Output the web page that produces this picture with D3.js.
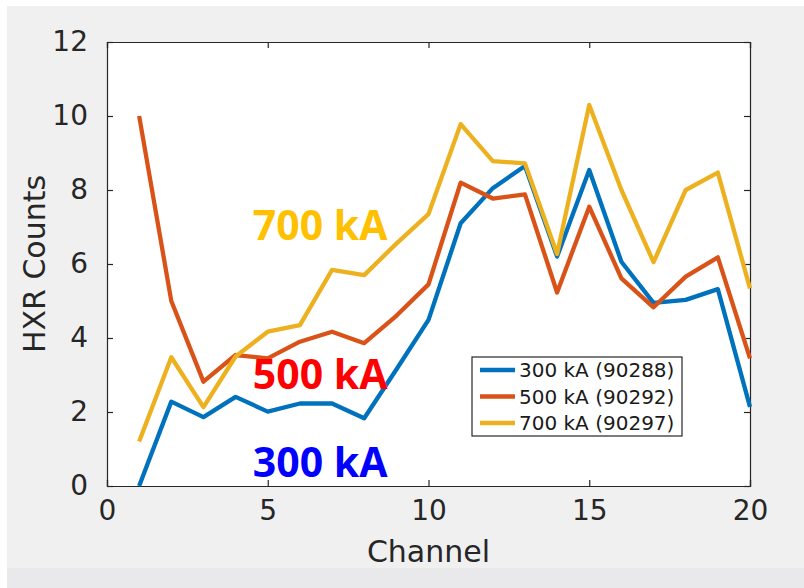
<!DOCTYPE html>
<html><head><meta charset="utf-8">
<script src="https://cdn.jsdelivr.net/npm/d3@7"></script>
<style>html,body{margin:0;padding:0;background:#fff;}svg{display:block;}</style>
</head><body>
<script>
const channels = [1,2,3,4,5,6,7,8,9,10,11,12,13,14,15,16,17,18,19,20];
const s300 = [0,2.28,1.86,2.41,2.01,2.23,2.23,1.83,3.15,4.49,7.1,8.05,8.65,6.2,8.54,6.06,4.95,5.03,5.32,2.14];
const s500 = [10.0,5.0,2.82,3.54,3.45,3.9,4.17,3.86,4.6,5.45,8.2,7.77,7.88,5.23,7.55,5.61,4.83,5.66,6.18,3.45];
const s700 = [1.2,3.48,2.13,3.5,4.17,4.35,5.84,5.7,6.55,7.35,9.78,8.78,8.72,6.27,10.3,8.0,6.05,8.0,8.47,5.34];
const seriesNames = ["300 kA (90288)","500 kA (90292)","700 kA (90297)"];
const xTicks = [0,5,10,15,20];
const yTicks = [0,2,4,6,8,10,12];
const annotations = [
  {text:"700 kA", x:5, y:6.65, color:"#FFC000"},
  {text:"500 kA", x:5, y:2.62, color:"#FF0000"},
  {text:"300 kA", x:5, y:0.25, color:"#0000FF"}
];

const W=804,H=588;
const svg=d3.select("body").append("svg").attr("width",W).attr("height",H);
svg.append("rect").attr("width",W).attr("height",H).attr("fill","#ffffff");
svg.append("rect").attr("x",7).attr("y",6).attr("width",W-7).attr("height",H-6).attr("fill","#f0f0f0");
svg.append("rect").attr("x",7).attr("y",568).attr("width",W-7).attr("height",H-568).attr("fill","#e9e9eb");

const L=107,R=750,T=42,B=486;
const x=d3.scaleLinear().domain([0,20]).range([L,R]);
const y=d3.scaleLinear().domain([0,12]).range([B,T]);

svg.append("rect").attr("x",L).attr("y",T).attr("width",R-L).attr("height",B-T).attr("fill","#fff");

const axColor="#262626";
const fontAx="DejaVu Sans";
const gx=svg.append("g").attr("transform",`translate(0,${B})`)
  .call(d3.axisBottom(x).tickValues(xTicks).tickSize(-6).tickPadding(14).tickFormat(d3.format("d")));
const gxt=svg.append("g").attr("transform",`translate(0,${T})`)
  .call(d3.axisTop(x).tickValues(xTicks).tickSize(-6).tickFormat(""));
const gy=svg.append("g").attr("transform",`translate(${L},0)`)
  .call(d3.axisLeft(y).tickValues(yTicks).tickSize(-6).tickPadding(19).tickFormat(d3.format("d")));
const gyr=svg.append("g").attr("transform",`translate(${R},0)`)
  .call(d3.axisRight(y).tickValues(yTicks).tickSize(-6).tickFormat(""));
[gx,gxt,gy,gyr].forEach(g=>{
  g.selectAll("path").attr("stroke",axColor).attr("stroke-width",1.2);
  g.selectAll("line").attr("stroke",axColor).attr("stroke-width",1.2);
  g.selectAll("text").attr("fill","#262626").attr("font-family",fontAx).attr("font-size",28);
});

svg.append("text").attr("x",(L+R)/2).attr("y",562).attr("text-anchor","middle")
  .attr("font-family",fontAx).attr("font-size",30).attr("fill","#262626").text("Channel");
svg.append("text").attr("transform",`translate(45,${(T+B)/2}) rotate(-90)`).attr("text-anchor","middle")
  .attr("font-family",fontAx).attr("font-size",30).attr("fill","#262626").text("HXR Counts");

const colors=["#0072BD","#D95319","#EDB120"];
const data=[s300,s500,s700];
const line=d3.line().x((d,i)=>x(channels[i])).y(d=>y(d));
data.forEach((s,k)=>{
  svg.append("path").datum(s).attr("d",line).attr("fill","none")
    .attr("stroke",colors[k]).attr("stroke-width",4.3).attr("stroke-linejoin","round");
});

const lg=svg.append("g");
lg.append("rect").attr("x",472).attr("y",357).attr("width",210).attr("height",79)
  .attr("fill","#fff").attr("stroke","#262626").attr("stroke-width",1.2);
seriesNames.forEach((n,k)=>{
  const yy=370+k*26.5;
  lg.append("line").attr("x1",480).attr("x2",515).attr("y1",yy).attr("y2",yy)
    .attr("stroke",colors[k]).attr("stroke-width",4.5);
  lg.append("text").attr("x",519).attr("y",yy+7.2).attr("font-family",fontAx).attr("font-size",20)
    .attr("fill","#1a1a1a").text(n);
});

annotations.forEach(a=>{
  svg.append("text").attr("x",x(a.x)-15).attr("y",y(a.y)).attr("font-family","Open Sans")
    .attr("font-weight","bold").attr("font-size",41).attr("fill",a.color).text(a.text);
});
</script>
</body></html>
